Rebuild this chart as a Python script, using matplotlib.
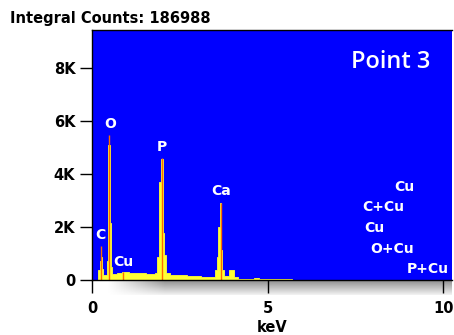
import numpy as np
import matplotlib.pyplot as plt

# spectrum: bin start energy (keV) and counts
energy = [0.00, 0.17, 0.22, 0.25, 0.29, 0.32, 0.42, 0.46, 0.51, 0.54, 0.57,
          0.70, 0.80, 0.86, 0.95, 1.05, 1.20, 1.40, 1.55, 1.70, 1.80,
          1.85, 1.92, 1.97, 2.02, 2.06, 2.10, 2.23, 2.45, 2.70, 2.90,
          3.10, 3.30, 3.45, 3.50, 3.55, 3.60, 3.64, 3.67, 3.70, 3.76,
          3.90, 4.05, 4.15, 4.60, 4.75, 5.00, 5.30, 5.45, 5.70, 10.25]
counts = [0, 380, 700, 880, 400, 200, 700, 5100, 2150, 500, 240,
          260, 280, 310, 290, 270, 260, 250, 235, 230, 260,
          880, 3700, 4550, 1770, 940, 260, 190, 170, 160, 150,
          120, 110, 100, 380, 880, 2000, 2900, 1130, 380, 150,
          380, 100, 45, 60, 40, 45, 40, 55, 0, 0]

# peak marker lines
marker_kev = [0.26, 0.49, 0.89, 1.99, 3.66]
marker_cnt = [1280, 5470, 310, 4600, 2920]

# peak labels
peak_labels = ["C", "O", "Cu", "P", "Ca"]
peak_x = [0.25, 0.52, 0.89, 1.99, 3.68]
peak_y = [1700, 5900, 690, 5030, 3360]

side_labels = ["Cu", "C+Cu", "Cu", "O+Cu", "P+Cu"]
side_x = [8.88, 8.29, 8.03, 8.53, 9.57]
side_y = [3520, 2740, 1950, 1170, 400]

xticks = [0, 5, 10]
yticks = [0, 2000, 4000, 6000, 8000]
ytick_labels = ["0", "2K", "4K", "6K", "8K"]

W, H = 454, 335
fig = plt.figure(figsize=(W / 100, H / 100), dpi=100)

# grey shadow strip under the x axis
gax = fig.add_axes([107 / W, 40 / H, 345 / W, 14 / H], zorder=0)
grad = np.linspace(0.58, 0.95, 50)[:, None] * np.ones((50, 200))
fade = np.clip(np.linspace(0, 6, 200), 0, 1)[None, :]
grad = 1 - (1 - grad) * fade
gax.imshow(grad, cmap='gray', vmin=0, vmax=1, aspect='auto', extent=[0, 1, 0, 1])
gax.axis('off')

ax = fig.add_axes([92 / W, 55 / H, 360 / W, 250 / H], zorder=1)
ax.set_facecolor('#0000ff')
ax.fill_between(energy, counts, step='post', facecolor='#ffff33', edgecolor='#ffff33', linewidth=0.6)
ax.vlines(marker_kev, 0, marker_cnt, color='#ff6a00', linewidth=1)

for t, x, y in zip(peak_labels, peak_x, peak_y):
    ax.text(x, y, t, color='white', fontsize=10, fontweight='bold', ha='center', va='center')
for t, x, y in zip(side_labels, side_x, side_y):
    ax.text(x, y, t, color='white', fontsize=10, fontweight='bold', ha='center', va='center')
ax.text(8.5, 8240, "Point 3", color='white', fontsize=17, family='Open Sans', fontweight='semibold',
        ha='center', va='center')

ax.set_xlim(0, 10.25)
ax.set_ylim(0, 9430)
ax.set_xticks(xticks)
ax.set_yticks(yticks)
ax.set_yticklabels(ytick_labels)
ax.tick_params(direction='out', length=9, width=1, labelsize=10.5, pad=3)
ax.tick_params(axis='x', pad=6)
for lab in ax.get_xticklabels() + ax.get_yticklabels():
    lab.set_fontweight('bold')
ax.spines['right'].set_visible(False)
for s in ['left', 'bottom', 'top']:
    ax.spines[s].set_linewidth(1)
ax.set_xlabel("keV", fontsize=10.5, fontweight='bold', labelpad=3)

fig.text(10 / W, 1 - 18 / H, "Integral Counts: 186988", fontsize=10.5, fontweight='bold',
         ha='left', va='center')

fig.savefig('out.png', dpi=100)
